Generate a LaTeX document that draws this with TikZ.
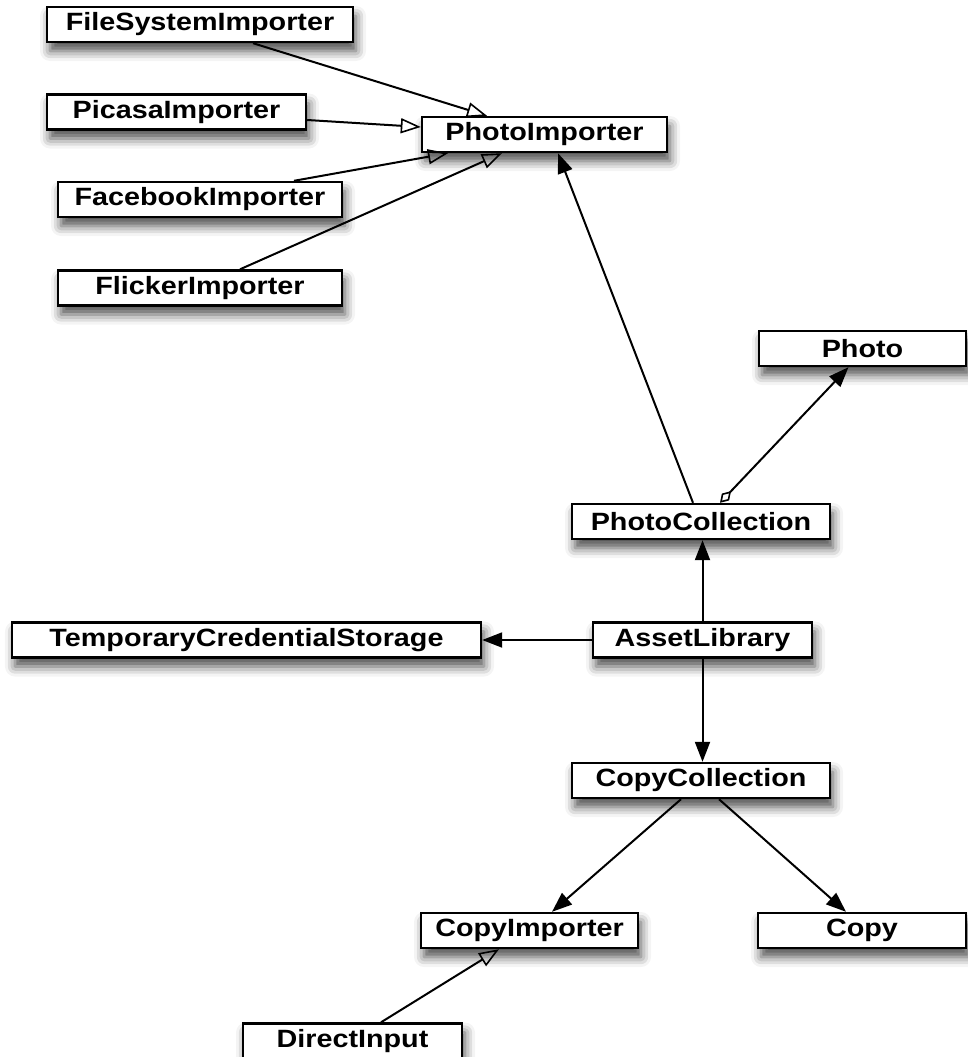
\documentclass[tikz,border=0pt]{standalone}
\usepackage{fontspec}
\setmainfont{Liberation Sans}[FakeStretch=1.15]
\usepackage{tikz}
\usetikzlibrary{arrows.meta,shadows.blur}

\tikzset{
    classbox/.style={draw=black, line width=2.4pt, fill=white, inner sep=0pt,
        minimum height=35pt, font=\fontsize{25}{29}\selectfont\bfseries,
        blur shadow={shadow xshift=3pt, shadow yshift=-9pt, shadow blur radius=10pt, shadow opacity=70}},
    inherit/.style={line width=2pt, -{Triangle[open, length=20pt, width=15pt, line width=1.6pt]}},
    assoc/.style={line width=2pt, -{Triangle[length=20pt, width=15pt]}},
    aggr/.style={line width=2pt, {Diamond[open, length=16pt, width=10pt, line width=1.6pt]}-{Triangle[length=20pt, width=15pt]}}
}

\begin{document}
\begin{tikzpicture}[x=1pt, y=1pt]
    \useasboundingbox (0,0) rectangle (968,-1057);

    % classes
    \node[classbox, minimum width=306pt] (fsi) at (200,-24.5) {FileSystemImporter};
    \node[classbox, minimum width=259pt] (pica) at (176.5,-112) {PicasaImporter};
    \node[classbox, minimum width=245pt] (pi) at (544.5,-134.5) {PhotoImporter};
    \node[classbox, minimum width=284pt] (fb) at (200,-199.5) {FacebookImporter};
    \node[classbox, minimum width=284pt] (fl) at (200,-288) {FlickerImporter};
    \node[classbox, minimum width=207pt] (photo) at (862.5,-348.5) {Photo};
    \node[classbox, minimum width=258pt] (pc) at (701,-521.5) {PhotoCollection};
    \node[classbox, minimum width=469pt] (tcs) at (246.5,-640) {TemporaryCredentialStorage};
    \node[classbox, minimum width=219pt] (al) at (702.5,-640) {AssetLibrary};
    \node[classbox, minimum width=258pt] (cc) at (701,-780.5) {CopyCollection};
    \node[classbox, minimum width=217pt] (ci) at (529.5,-930.5) {CopyImporter};
    \node[classbox, minimum width=208pt] (copy) at (862,-930.5) {Copy};
    \node[classbox, minimum width=219pt] (di) at (352.5,-1041) {DirectInput};

    % generalisations
    \draw[inherit] ([xshift=53pt]fsi.south) -- ([xshift=-57.5pt]pi.north);
    \draw[inherit] ([yshift=-8pt]pica.east) -- ([yshift=7.5pt]pi.west);
    \draw[inherit] ([xshift=94pt]fb.north) -- ([xshift=-96.5pt]pi.south);
    \draw[inherit] ([xshift=40pt]fl.north) -- ([xshift=-42.5pt]pi.south);
    \draw[inherit] ([xshift=28.5pt]di.north) -- ([xshift=-30.5pt]ci.south);

    % associations
    \draw[assoc] ([xshift=-8pt]pc.north) -- ([xshift=13.5pt]pi.south);
    \draw[aggr] ([xshift=19pt]pc.north) -- ([xshift=-14pt]photo.south);
    \draw[assoc] (al.north) -- (al.north |- pc.south);
    \draw[assoc] (al.west) -- (tcs.east);
    \draw[assoc] (al.south) -- (al.south |- cc.north);
    \draw[assoc] ([xshift=-20pt]cc.south) -- ([xshift=22.5pt]ci.north);
    \draw[assoc] ([xshift=18pt]cc.south) -- ([xshift=-16pt]copy.north);
\end{tikzpicture}
\end{document}
